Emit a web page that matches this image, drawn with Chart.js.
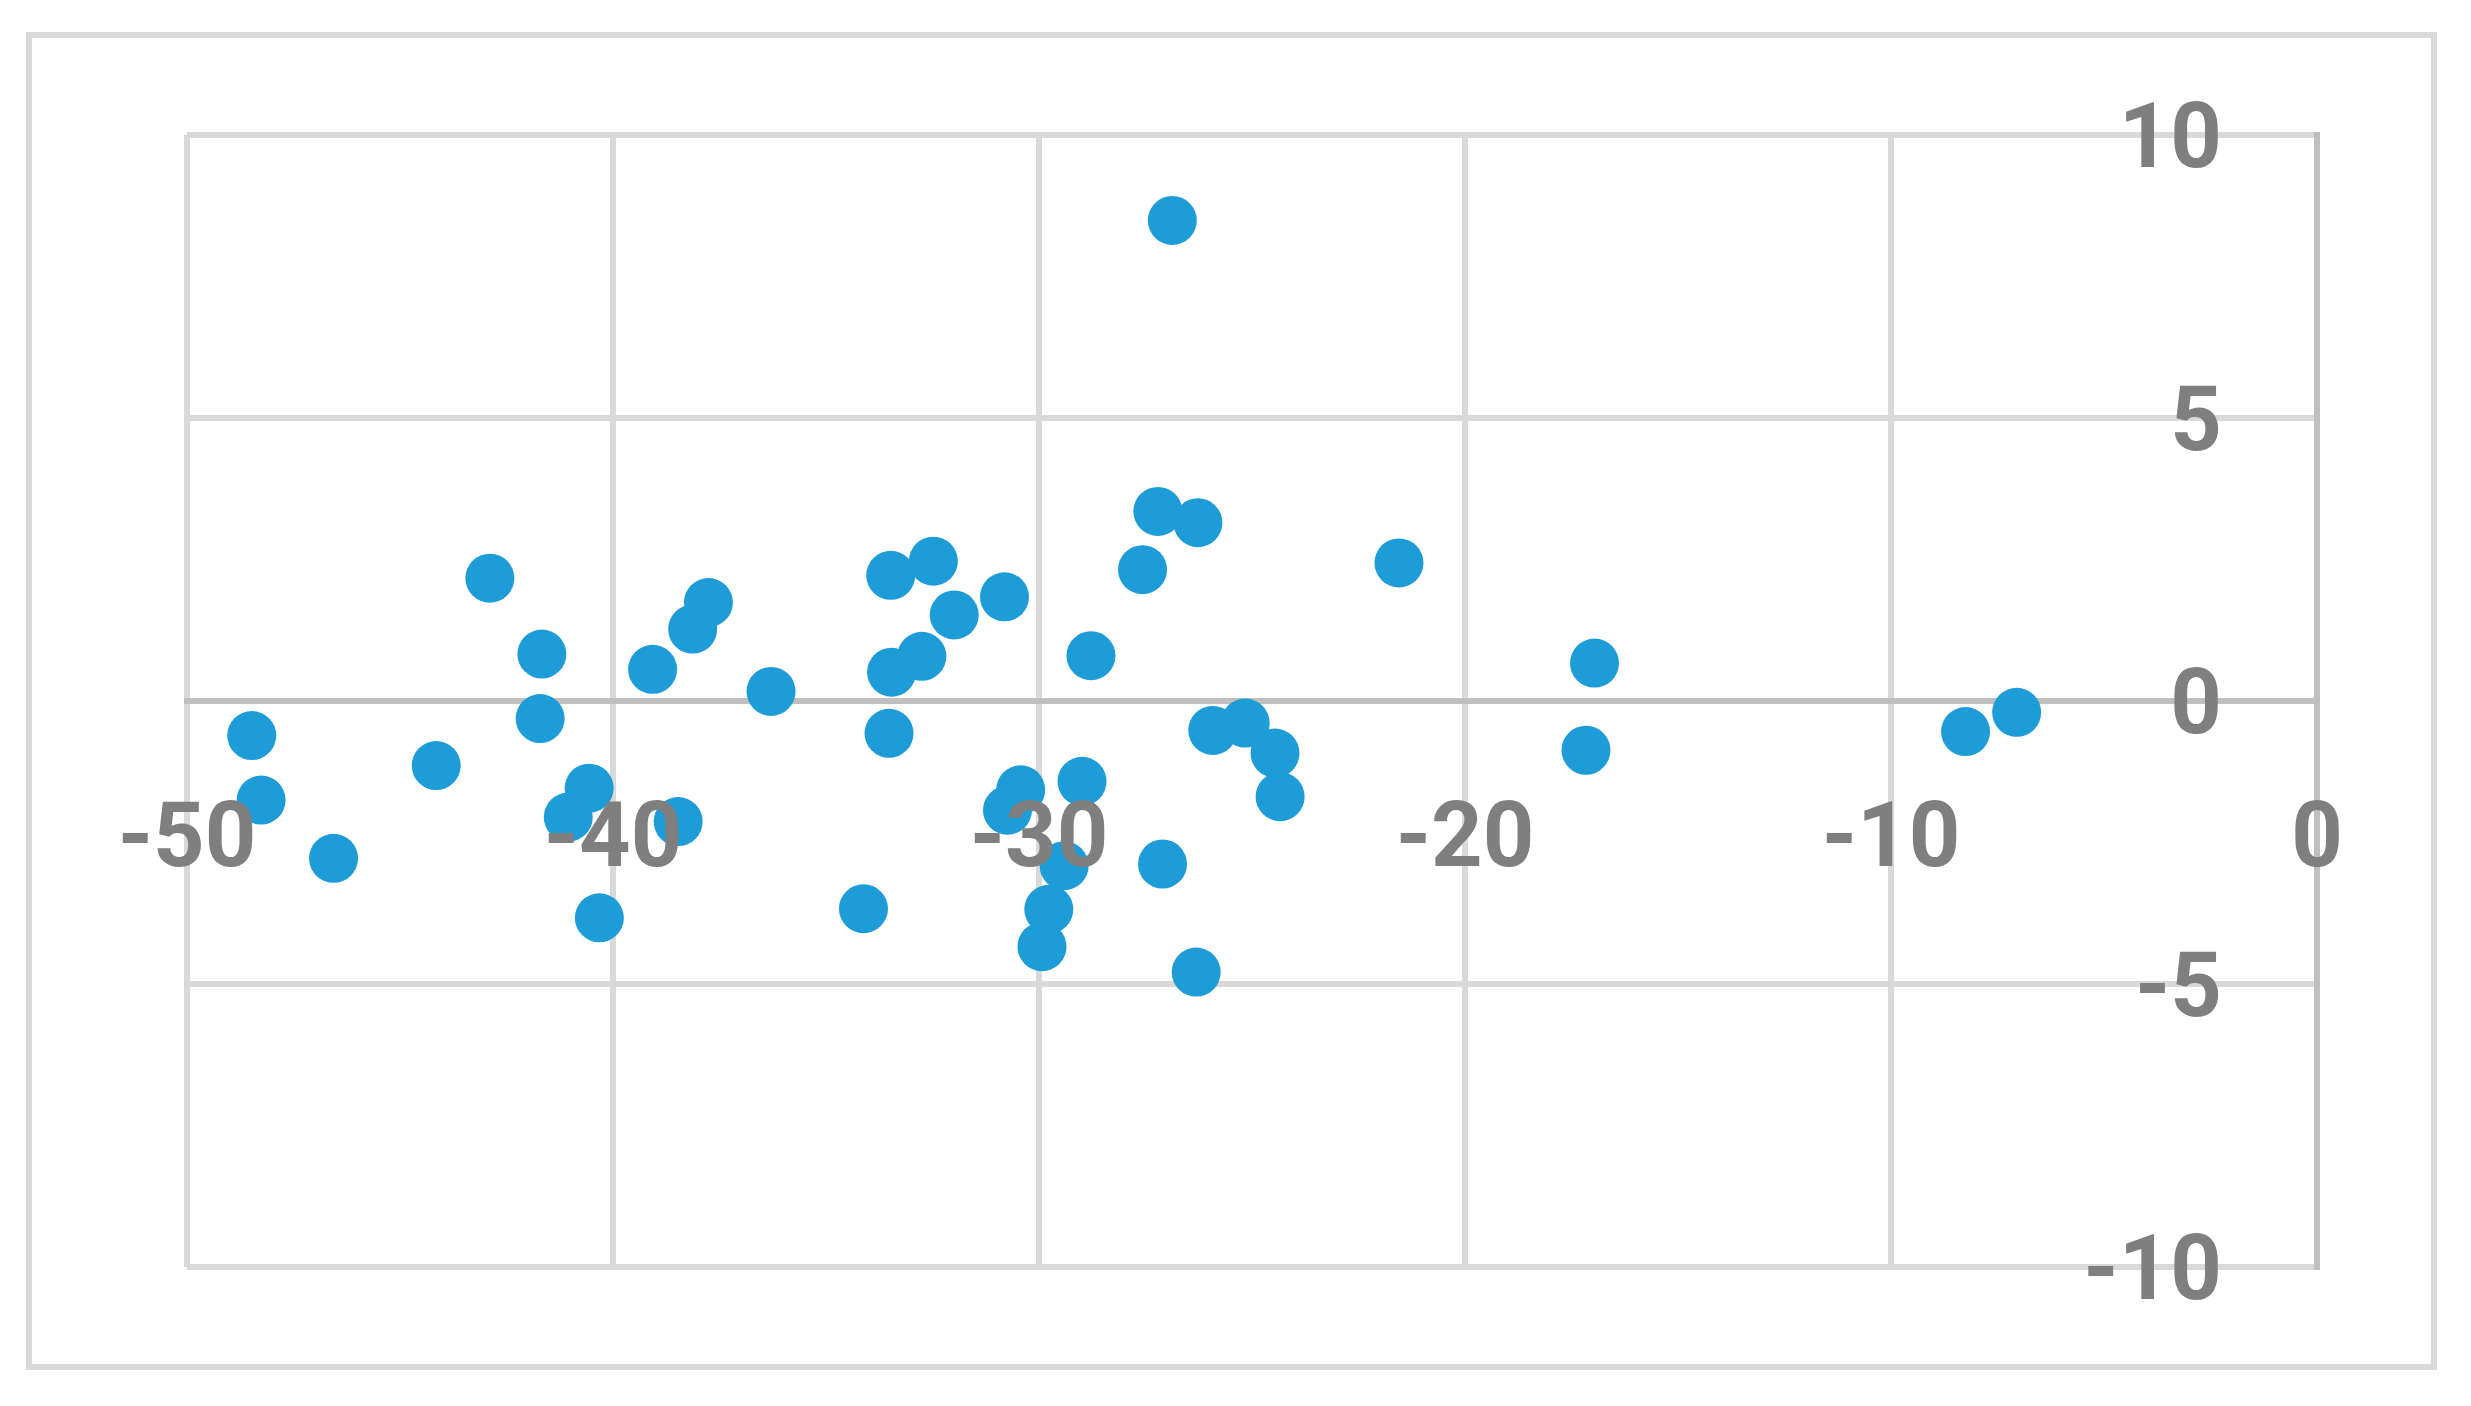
<!DOCTYPE html>
<html>
<head>
<meta charset="utf-8">
<title>Scatter</title>
<script src="https://cdn.jsdelivr.net/npm/chart.js@4.4.1/dist/chart.umd.min.js"></script>
<style>
  html, body { margin: 0; padding: 0; background: #fff; overflow: hidden; }
  #wrap { position: relative; width: 2471px; height: 1406px; }
  #frame { position: absolute; left: 26px; top: 32px; width: 2399px; height: 1326px; border: 6px solid #d9d9d9; pointer-events: none; }
</style>
</head>
<body>
<div id="wrap">
  <canvas id="chart" width="2471" height="1406"></canvas>
  <div id="frame"></div>
</div>
<script>
const xValues = [
  -26.87, -21.55, -27.21, -26.27, -27.57, -33.48, -32.48, -31.99, -30.81, -32.75,
  -33.46, -28.78, -33.52, -25.92, -25.16, -24.46, -24.34, -30.43, -30.74, -28.99,
  -29.41, -27.10, -34.12, -29.77, -29.93, -26.31, -42.89, -41.67, -37.76, -38.13,
  -39.07, -36.29, -41.71, -48.48, -48.26, -44.15, -40.56, -41.05, -38.47, -46.56,
  -40.32, -16.96, -17.16, -8.25, -7.05
];
const yValues = [
  8.49, 2.44, 3.35, 3.15, 2.32, 2.22, 2.47, 1.52, 1.84, 0.79,
  0.51, 0.80, -0.57, -0.52, -0.39, -0.92, -1.69, -1.57, -1.93, -1.42,
  -2.91, -2.88, -3.67, -3.68, -4.34, -4.79, 2.17, 0.83, 1.74, 1.27,
  0.56, 0.17, -0.31, -0.61, -1.75, -1.14, -1.54, -2.05, -2.13, -2.78,
  -3.83, 0.67, -0.87, -0.54, -0.20
];
const xTicks = [-50, -40, -30, -20, -10, 0];
const yTicks = [-10, -5, 0, 5, 10];

const gridColor = '#d9d9d9';
const axisColor = '#bfbfbf';
const labelFont = {family: 'Roboto', size: 90, weight: 'bold'};

const points = xValues.map((x, i) => ({x: x, y: yValues[i]}));

new Chart(document.getElementById('chart'), {
  type: 'scatter',
  data: {
    datasets: [{
      data: points,
      backgroundColor: '#1e9cd7',
      borderWidth: 0,
      pointRadius: 24.5,
      pointHoverRadius: 24.5
    }]
  },
  options: {
    responsive: false,
    animation: false,
    layout: {padding: {left: 187, right: 154, top: 135, bottom: 139}},
    plugins: {legend: {display: false}, tooltip: {enabled: false}},
    scales: {
      x: {
        type: 'linear',
        position: {y: 0},
        min: xTicks[0],
        max: xTicks[xTicks.length - 1],
        afterBuildTicks: (scale) => { scale.ticks = xTicks.map(v => ({value: v})); },
        grid: {color: gridColor, lineWidth: 6, drawTicks: false},
        border: {color: axisColor, width: 6},
        ticks: {z: 1, font: labelFont, color: '#7f7f7f', padding: 88, maxRotation: 0, autoSkip: false}
      },
      y: {
        type: 'linear',
        position: 'right',
        min: yTicks[0],
        max: yTicks[yTicks.length - 1],
        afterBuildTicks: (scale) => { scale.ticks = yTicks.map(v => ({value: v})); },
        // labels sit inside the plot, left of the axis line, so the axis takes no room
        afterFit: (scale) => {
          scale.width = 0;
          scale.paddingTop = 0;
          scale.paddingBottom = 0;
        },
        grid: {color: gridColor, lineWidth: 6, drawTicks: false},
        border: {color: axisColor, width: 6},
        ticks: {z: 1, mirror: true, font: labelFont, color: '#7f7f7f', padding: -95, labelOffset: 9, autoSkip: false}
      }
    }
  }
});
</script>
</body>
</html>
